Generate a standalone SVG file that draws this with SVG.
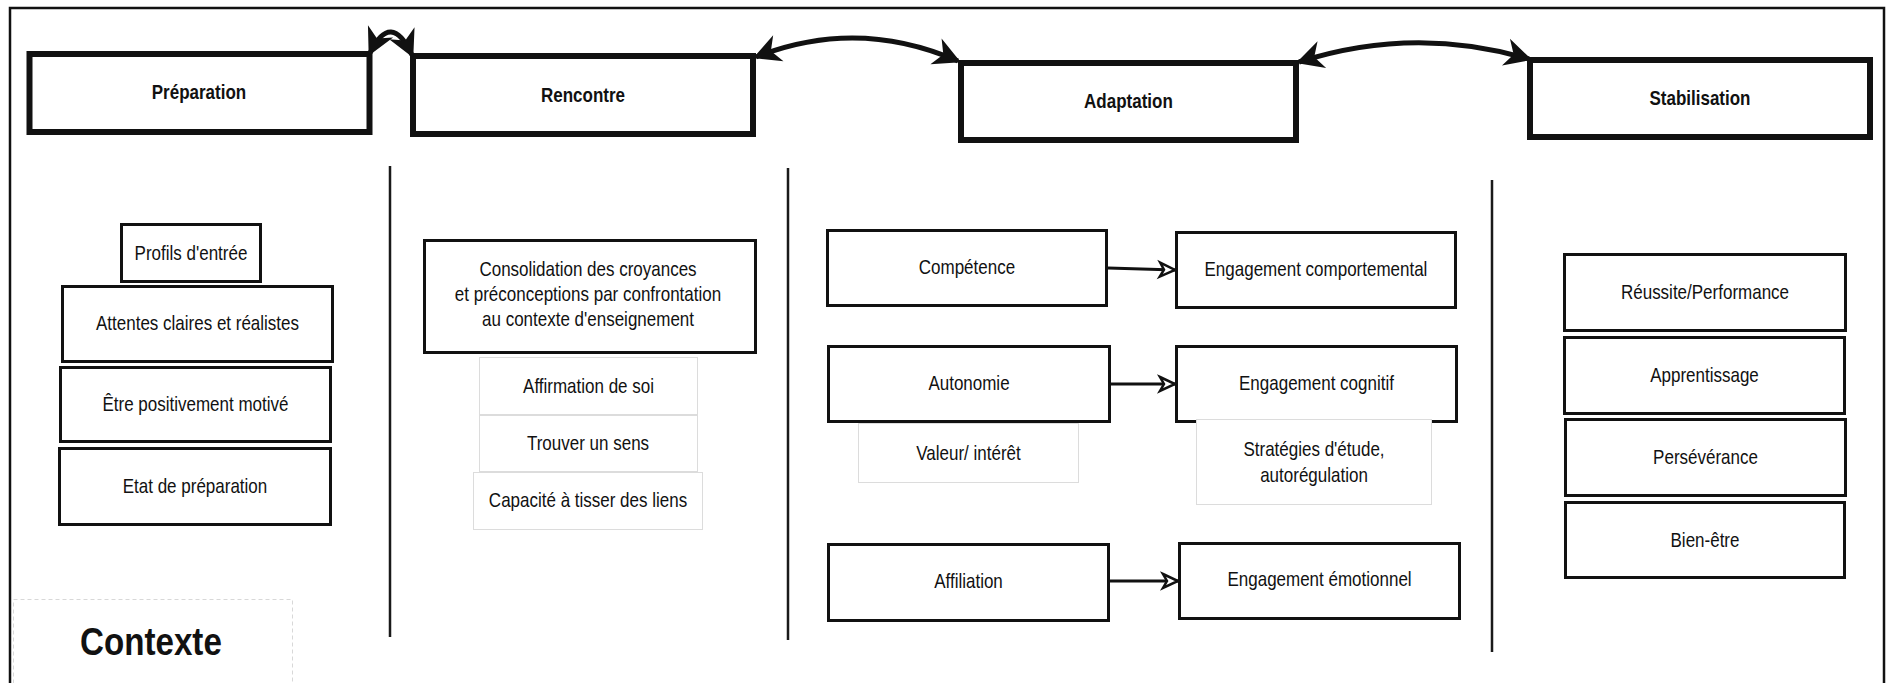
<svg xmlns="http://www.w3.org/2000/svg" width="1886" height="683" viewBox="0 0 1886 683">
<style>
text{font-family:"Liberation Sans",Arial,sans-serif;fill:#111;font-size:20px;text-anchor:middle}
.h{font-weight:bold}
.ctx{font-weight:bold;font-size:39px}
.hb{fill:#fff;stroke:#111;stroke-width:6}
.b{fill:#fff;stroke:#111;stroke-width:3}
.g{fill:#fff;stroke:#dcdcdc;stroke-width:1}
.div{stroke:#1a1a1a;stroke-width:2.5;fill:none}
.arc{fill:none;stroke:#111;stroke-width:5}
.hz{fill:none;stroke:#111;stroke-width:3}
</style>
<defs>
<marker id="ah" markerUnits="userSpaceOnUse" orient="auto-start-reverse" refX="0" refY="0" markerWidth="40" markerHeight="40" overflow="visible">
<path d="M3,0 L-24,-14 L-16,0 L-24,14 Z" fill="#111"/>
</marker>
<marker id="oh" markerUnits="userSpaceOnUse" orient="auto" refX="0" refY="0" markerWidth="30" markerHeight="30" overflow="visible">
<path d="M-15,-7 L0,0 L-15,7 L-11,0 Z" fill="#fff" stroke="#111" stroke-width="2.5" stroke-linejoin="miter"/>
</marker>
</defs>
<rect x="0" y="0" width="1886" height="683" fill="#fff"/>
<rect id="frame" x="10" y="8" width="1874" height="720" fill="none" stroke="#111" stroke-width="2.5"/>
<g id="dividers">
<line class="div" x1="390" y1="166" x2="390" y2="637"/>
<line class="div" x1="788" y1="168" x2="788" y2="640"/>
<line class="div" x1="1492" y1="180" x2="1492" y2="652"/>
</g>
<g id="n-preparation"><rect class="hb" x="29.5" y="54" width="340" height="78"/><text class="h" transform="scale(0.85,1)" x="234.1" y="99">Préparation</text></g>
<g id="n-rencontre"><rect class="hb" x="413" y="56" width="340" height="78"/><text class="h" transform="scale(0.85,1)" x="685.9" y="102">Rencontre</text></g>
<g id="n-adaptation"><rect class="hb" x="961" y="63" width="335" height="77"/><text class="h" transform="scale(0.85,1)" x="1327.6" y="108">Adaptation</text></g>
<g id="n-stabilisation"><rect class="hb" x="1530" y="60" width="340" height="77"/><text class="h" transform="scale(0.85,1)" x="2000" y="105">Stabilisation</text></g>

<g id="n-profils"><rect class="b" x="121.5" y="224.5" width="139" height="57"/><text transform="scale(0.85,1)" x="224.7" y="260">Profils d'entrée</text></g>
<g id="n-attentes"><rect class="b" x="62.5" y="286.5" width="270" height="75"/><text transform="scale(0.85,1)" x="232.4" y="330">Attentes claires et réalistes</text></g>
<g id="n-etre"><rect class="b" x="60.5" y="367.5" width="270" height="74"/><text transform="scale(0.85,1)" x="230" y="411">Être positivement motivé</text></g>
<g id="n-etat"><rect class="b" x="59.5" y="448.5" width="271" height="76"/><text transform="scale(0.85,1)" x="229.4" y="493">Etat de préparation</text></g>

<g id="n-consolidation"><rect class="b" x="424.5" y="240.5" width="331" height="112"/><text transform="scale(0.85,1)" x="691.8" y="276">Consolidation des croyances</text><text transform="scale(0.85,1)" x="691.8" y="301">et préconceptions par confrontation</text><text transform="scale(0.85,1)" x="691.8" y="326">au contexte d'enseignement</text></g>
<g id="n-affirmation"><rect class="g" x="479.5" y="357.5" width="218" height="57"/><text transform="scale(0.85,1)" x="692.4" y="393">Affirmation de soi</text></g>
<g id="n-trouver"><rect class="g" x="479.5" y="415.5" width="218" height="56"/><text transform="scale(0.85,1)" x="691.8" y="450">Trouver un sens</text></g>
<g id="n-capacite"><rect class="g" x="473.5" y="472.5" width="229" height="57"/><text transform="scale(0.85,1)" x="691.8" y="507">Capacité à tisser des liens</text></g>

<g id="n-competence"><rect class="b" x="827.5" y="230.5" width="279" height="75"/><text transform="scale(0.85,1)" x="1137.6" y="274">Compétence</text></g>
<g id="n-autonomie"><rect class="b" x="828.5" y="346.5" width="281" height="75"/><text transform="scale(0.85,1)" x="1140" y="390">Autonomie</text></g>
<g id="n-valeur"><rect class="g" x="858.5" y="423.5" width="220" height="59"/><text transform="scale(0.85,1)" x="1139.4" y="460">Valeur/ intérêt</text></g>
<g id="n-affiliation"><rect class="b" x="828.5" y="544.5" width="280" height="76"/><text transform="scale(0.85,1)" x="1139.4" y="588">Affiliation</text></g>

<g id="n-engcomp"><rect class="b" x="1176.5" y="232.5" width="279" height="75"/><text transform="scale(0.85,1)" x="1548.2" y="276">Engagement comportemental</text></g>
<g id="n-engcog"><rect class="b" x="1176.5" y="346.5" width="280" height="75"/><text transform="scale(0.85,1)" x="1548.8" y="390">Engagement cognitif</text></g>
<g id="n-strategies"><rect class="g" x="1196.5" y="419.5" width="235" height="85"/><text transform="scale(0.85,1)" x="1545.9" y="456">Stratégies d'étude,</text><text transform="scale(0.85,1)" x="1545.9" y="482">autorégulation</text></g>
<g id="n-engemo"><rect class="b" x="1179.5" y="543.5" width="280" height="75"/><text transform="scale(0.85,1)" x="1552.4" y="586">Engagement émotionnel</text></g>

<g id="n-reussite"><rect class="b" x="1564.5" y="254.5" width="281" height="76"/><text transform="scale(0.85,1)" x="2005.9" y="299">Réussite/Performance</text></g>
<g id="n-apprentissage"><rect class="b" x="1564.5" y="337.5" width="280" height="76"/><text transform="scale(0.85,1)" x="2005.3" y="382">Apprentissage</text></g>
<g id="n-perseverance"><rect class="b" x="1565.5" y="419.5" width="280" height="76"/><text transform="scale(0.85,1)" x="2006.5" y="464">Persévérance</text></g>
<g id="n-bienetre"><rect class="b" x="1565.5" y="502.5" width="279" height="75"/><text transform="scale(0.85,1)" x="2005.9" y="547">Bien-être</text></g>

<g id="n-contexte"><rect x="13.5" y="599.5" width="279" height="120" fill="#fff" stroke="#d8d8d8" stroke-width="1" stroke-dasharray="4 3"/><text class="ctx" transform="scale(0.85,1)" x="177.6" y="655">Contexte</text></g>

<g id="connectors">
<path class="arc" d="M370,53 Q391,10 412,55" marker-start="url(#ah)" marker-end="url(#ah)"/>
<path class="arc" d="M756,57 Q857,17 958,61" marker-start="url(#ah)" marker-end="url(#ah)"/>
<path class="arc" d="M1299,62 Q1414,25 1529,59" marker-start="url(#ah)" marker-end="url(#ah)"/>
<path class="hz" d="M1108,268 L1175,270" marker-end="url(#oh)"/>
<path class="hz" d="M1111,384 L1175,384" marker-end="url(#oh)"/>
<path class="hz" d="M1110,581 L1178,581" marker-end="url(#oh)"/>
</g>
</svg>
